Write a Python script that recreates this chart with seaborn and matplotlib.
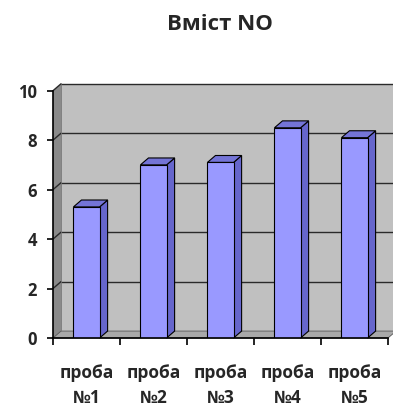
import matplotlib
matplotlib.use("Agg")
import matplotlib.pyplot as plt
from matplotlib.patches import Polygon
import seaborn as sns
import pandas as pd

samples = ["проба\n№1", "проба\n№2", "проба\n№3", "проба\n№4", "проба\n№5"]
no_content = [5.3, 7.0, 7.1, 8.5, 8.1]
y_ticks = [0, 2, 4, 6, 8, 10]
title = "Вміст NO"

sns.set_theme(style="white")
plt.rcParams["font.family"] = ["Open Sans", "DejaVu Sans"]

FRONT = "#9999FF"
SIDE = "#6666CC"
TOP = "#7474D6"
WALL = "#C0C0C0"
FLOOR = "#A9A9A9"
LWALL = "#8A8A8A"
GRID = "#2A2A2A"

fig = plt.figure(figsize=(3.93, 4.11), dpi=100)
ax = fig.add_axes([53 / 393, 73 / 411, 335 / 393, 247.3 / 411])

df = pd.DataFrame({"sample": samples, "value": no_content})
sns.barplot(data=df, x="sample", y="value", color=FRONT, width=0.39,
            edgecolor="black", linewidth=0.8, saturation=1, ax=ax, zorder=5)

ax.set_xlim(-0.5, 4.5)
ax.set_ylim(0, 10)

# depth of the pseudo-3D box, in data units
dx, dy = 0.12, 0.28
x0, x1 = -0.5, 4.5
ymax = y_ticks[-1]

# back wall, left wall and floor
ax.add_patch(Polygon([(x0 + dx, dy), (x1 + dx + 0.2, dy), (x1 + dx + 0.2, ymax + dy),
                      (x0 + dx, ymax + dy)], closed=True, facecolor=WALL,
                     edgecolor="none", zorder=0, clip_on=False))
ax.add_patch(Polygon([(x0, 0), (x0 + dx, dy), (x0 + dx, ymax + dy), (x0, ymax)],
                     closed=True, facecolor=LWALL, edgecolor="none",
                     zorder=1, clip_on=False))
ax.add_patch(Polygon([(x0, 0), (x1, 0), (x1 + dx, dy), (x0 + dx, dy)],
                     closed=True, facecolor=FLOOR, edgecolor="#555555",
                     linewidth=0.6, zorder=1, clip_on=False))

# grid lines on the back and left walls
for v in y_ticks[1:]:
    ax.plot([x0 + dx, x1 + dx + 0.2], [v + dy, v + dy], color=GRID, lw=1.0,
            zorder=2, clip_on=False)
    ax.plot([x0, x0 + dx], [v, v + dy], color=GRID, lw=1.0, zorder=2, clip_on=False)
ax.plot([x0 + dx, x0 + dx], [dy, ymax + dy], color="#777777", lw=0.6, zorder=2,
        clip_on=False)

# side and top faces of each bar
for p in ax.patches[:]:
    if not hasattr(p, "get_width") or p.get_height() <= 0:
        continue
    bx0 = p.get_x()
    bx1 = bx0 + p.get_width()
    h = p.get_height()
    ax.add_patch(Polygon([(bx1, 0), (bx1 + dx, dy), (bx1 + dx, h + dy), (bx1, h)],
                         closed=True, facecolor=SIDE, edgecolor="black",
                         linewidth=0.8, zorder=4, clip_on=False))
    ax.add_patch(Polygon([(bx0, h), (bx0 + dx, h + dy), (bx1 + dx, h + dy), (bx1, h)],
                         closed=True, facecolor=TOP, edgecolor="black",
                         linewidth=0.8, zorder=4, clip_on=False))

for side in ["top", "right"]:
    ax.spines[side].set_visible(False)
for side in ["left", "bottom"]:
    ax.spines[side].set_color("black")
    ax.spines[side].set_linewidth(1.2)
    ax.spines[side].set_zorder(6)

ax.set_yticks(y_ticks)
ax.set_yticklabels([str(t) for t in y_ticks], fontsize=12, fontweight="bold")
ax.tick_params(axis="y", direction="out", length=4.5, width=1.2, color="black",
               pad=7, left=True)

ax.set_xticks(range(len(samples)))
ax.set_xticklabels(samples, fontsize=12.5, fontweight="bold", linespacing=1.5)
ax.set_xticks([x0 + i for i in range(len(samples) + 1)], minor=True)
ax.tick_params(axis="x", which="major", length=0, pad=19)
ax.tick_params(axis="x", which="minor", direction="out", length=5, width=1.2,
               color="black", bottom=True)

ax.set_xlabel("")
ax.set_ylabel("")
ax.grid(False)

fig.text(220 / 393, 1 - 24 / 411, title, ha="center", va="center",
         fontsize=16, fontweight="bold")

fig.savefig("out.png", dpi=100)
